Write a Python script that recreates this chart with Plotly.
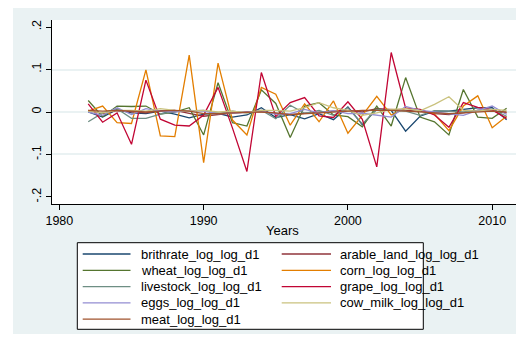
import plotly.graph_objects as go

years = list(range(1982, 2012))

brithrate = [0.000, -0.012, 0.006, -0.002, -0.004, 0.002, -0.005, -0.014, -0.005, -0.003,
             -0.012, -0.007, 0.010, -0.013, -0.006, -0.016, -0.004, -0.018, 0.012, -0.030,
             0.007, 0.004, -0.045, -0.010, 0.002, 0.002, 0.006, 0.010, 0.010, -0.018]
arable_land = [0.004, -0.004, 0.003, 0.000, -0.002, 0.003, 0.004, -0.003, -0.010, -0.006,
               -0.002, 0.000, 0.001, -0.004, -0.006, -0.003, 0.000, 0.002, 0.004, 0.000,
               0.008, 0.006, 0.004, 0.002, -0.004, -0.006, -0.002, 0.004, 0.002, -0.002]
wheat = [0.027, -0.011, 0.014, 0.013, 0.014, -0.005, 0.000, 0.010, -0.054, 0.069,
         -0.025, -0.033, 0.052, 0.020, -0.060, 0.014, 0.022, -0.007, -0.011, -0.035,
         0.014, -0.033, 0.081, -0.012, -0.023, -0.054, 0.053, -0.012, -0.015, 0.009]
corn = [0.002, 0.014, -0.025, -0.027, 0.099, -0.056, -0.058, 0.134, -0.119, 0.115,
        -0.019, -0.054, 0.058, 0.042, -0.031, 0.019, -0.023, 0.026, -0.050, -0.008,
        0.037, -0.007, 0.009, 0.005, -0.005, -0.044, 0.014, 0.038, -0.037, -0.010]
livestock = [-0.023, -0.002, 0.008, -0.015, -0.015, -0.005, 0.002, 0.003, 0.004, -0.004,
             0.002, -0.002, 0.004, -0.016, 0.016, -0.003, 0.004, -0.008, 0.010, -0.028,
             0.006, 0.004, 0.002, -0.008, 0.003, 0.002, 0.000, 0.004, 0.006, -0.010]
grape = [0.019, -0.024, -0.002, -0.076, 0.075, -0.017, -0.031, -0.033, -0.007, 0.058,
         -0.038, -0.140, 0.093, -0.011, 0.022, 0.034, -0.009, -0.013, 0.024, -0.017,
         -0.129, 0.140, 0.009, 0.006, -0.007, -0.036, 0.022, 0.011, 0.005, -0.015]
eggs = [0.000, -0.008, 0.010, -0.006, 0.008, 0.002, 0.000, 0.004, 0.002, -0.004,
        -0.003, 0.000, 0.002, -0.005, -0.004, 0.006, -0.002, 0.003, -0.004, -0.003,
        -0.008, -0.012, 0.013, 0.004, 0.000, -0.004, -0.008, 0.004, 0.014, -0.006]
cow_milk = [0.002, -0.002, 0.004, 0.004, 0.002, 0.008, 0.004, 0.002, 0.004, 0.000,
            0.002, -0.002, 0.004, 0.004, 0.002, 0.010, 0.022, 0.010, 0.004, -0.008,
            -0.002, 0.006, 0.008, 0.003, 0.018, 0.036, 0.004, 0.002, 0.006, 0.004]
meat = [0.004, 0.002, 0.004, 0.002, 0.000, 0.002, 0.004, 0.002, -0.004, -0.004,
        -0.002, -0.001, 0.000, -0.002, -0.006, -0.004, -0.002, 0.000, 0.002, 0.004,
        0.004, 0.004, 0.002, 0.000, -0.002, -0.004, -0.002, 0.000, 0.002, 0.000]

series_names = ["brithrate_log_log_d1", "arable_land_log_log_d1", "wheat_log_log_d1",
                "corn_log_log_d1", "livestock_log_log_d1", "grape_log_log_d1",
                "eggs_log_log_d1", "cow_milk_log_log_d1", "meat_log_log_d1"]
series_values = [brithrate, arable_land, wheat, corn, livestock, grape, eggs, cow_milk, meat]
series_colors = ["#1a476f", "#90353b", "#55752f", "#e37e00", "#6e8e84",
                 "#c10534", "#938dd2", "#cac27e", "#a0522d"]

x_ticks = [1980, 1990, 2000, 2010]
y_ticks = [-0.2, -0.1, 0, 0.1, 0.2]
y_ticktext = ["-.2", "-.1", "0", ".1", ".2"]
grid_vals = [-0.1, 0, 0.1]

BG = "#EAF2F3"
FONT = "Liberation Sans, Arial, sans-serif"

# The page body has an 8px default margin; lay the figure out in window pixels.
OFF = 8
W, H = 524, 340
plot_l, plot_r, plot_t, plot_b = 52, 516, 20, 204   # window pixels
ml = plot_l - OFF
mt = plot_t - OFF
mr = W - (plot_r - OFF)
mb = H - (plot_b - OFF)
pw = plot_r - plot_l
ph = plot_b - plot_t

def px_x(p):  # window pixel -> paper x
    return (p - plot_l) / pw

def px_y(p):  # window pixel -> paper y
    return (plot_b - p) / ph

fig = go.Figure()
for name, vals, col in zip(series_names, series_values, series_colors):
    fig.add_trace(go.Scatter(x=years, y=vals, mode="lines", name=name,
                             line=dict(color=col, width=1.3), showlegend=False))

shapes = [
    # white frame outside the grey graph region
    dict(type="rect", xref="paper", yref="paper", x0=px_x(0), x1=px_x(13),
         y0=px_y(H + OFF), y1=px_y(0), fillcolor="white", line_width=0, layer="below"),
    dict(type="rect", xref="paper", yref="paper", x0=px_x(0), x1=px_x(W + OFF),
         y0=px_y(H + OFF), y1=px_y(334), fillcolor="white", line_width=0, layer="below"),
    # legend box
    dict(type="rect", xref="paper", yref="paper", x0=px_x(77.3), x1=px_x(423.3),
         y0=px_y(329.3), y1=px_y(242.7), fillcolor="white",
         line=dict(color="black", width=1)),
]
annotations = []

row_y = [254, 270.3, 286.6, 302.9, 319.2]
col_line = [(82.7, 130.5), (281.7, 331)]
col_text = [139.3, 338.3]
for i, (name, col) in enumerate(zip(series_names, series_colors)):
    r, c = divmod(i, 2)
    y = row_y[r]
    shapes.append(dict(type="line", xref="paper", yref="paper",
                       x0=px_x(col_line[c][0]), x1=px_x(col_line[c][1]),
                       y0=px_y(y), y1=px_y(y), line=dict(color=col, width=1.3)))
    annotations.append(dict(xref="paper", yref="paper", x=px_x(col_text[c]), y=px_y(y),
                            text=name, showarrow=False, xanchor="left", yanchor="middle",
                            font=dict(family=FONT, size=13, color="black")))

annotations.append(dict(xref="paper", yref="paper", x=px_x(282.5), y=px_y(230),
                        text="Years", showarrow=False, xanchor="center", yanchor="middle",
                        font=dict(family=FONT, size=13, color="black")))

fig.update_layout(
    width=W, height=H,
    margin=dict(l=ml, r=mr, t=mt, b=mb, pad=0, autoexpand=False),
    paper_bgcolor=BG, plot_bgcolor="white",
    font=dict(family=FONT, size=12.5, color="black"),
    shapes=shapes, annotations=annotations,
    showlegend=False,
    xaxis=dict(range=[1979.49, 2011.65], tickvals=x_ticks, ticks="outside", ticklen=5,
               tickcolor="black", showline=True, linecolor="black", linewidth=1,
               showgrid=False, zeroline=False, tickfont=dict(size=12.5)),
    yaxis=dict(range=[-0.2165, 0.2165], tickvals=y_ticks, ticktext=y_ticktext,
               ticks="outside", ticklen=5, tickcolor="black", tickangle=-90,
               showline=True, linecolor="black", linewidth=1, showgrid=False,
               zeroline=False, tickfont=dict(size=12.5),
               minor=dict(tickvals=grid_vals, showgrid=True, gridcolor=BG, gridwidth=1.5,
                          ticks="")),
)

fig.write_html("out.html")
